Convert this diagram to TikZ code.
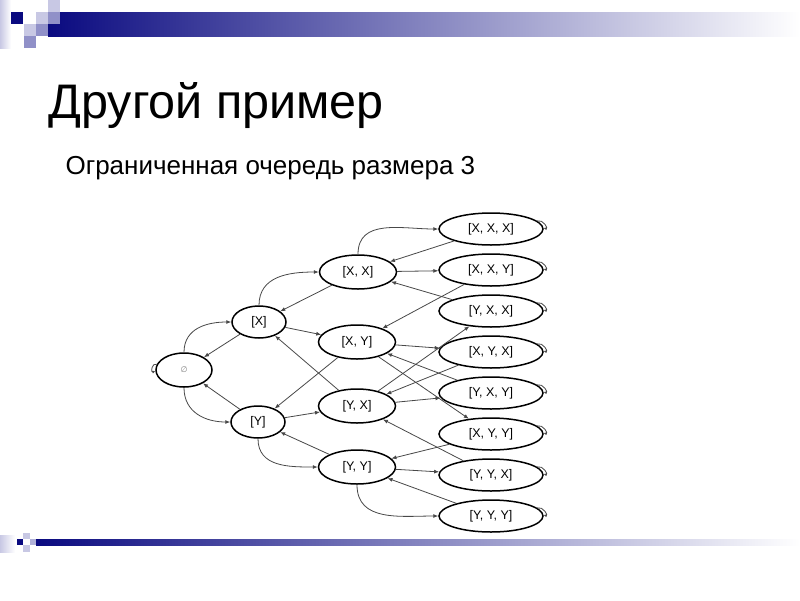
\documentclass[tikz,border=0pt]{standalone}
\usepackage{fontspec}
\setmainfont{Liberation Sans}
\newfontfamily\symfont{DejaVu Sans}
\usetikzlibrary{shapes.geometric, arrows.meta, positioning}
\definecolor{navy}{HTML}{0A0A80}
\definecolor{lav}{HTML}{C8C8E4}
\definecolor{lavmid}{HTML}{9090C8}
\definecolor{edgegray}{HTML}{484848}

\begin{document}
\begin{tikzpicture}[
  x=1pt, y=-1pt,
  every node/.style={font=\fontsize{12.5}{14}\selectfont},
  st/.style={ellipse, draw, line width=1.5pt, inner sep=0pt, minimum height=32pt},
  st1/.style={st, minimum width=54pt},
  st2/.style={st, minimum width=77pt, minimum height=34pt},
  st3/.style={st, minimum width=104pt},
  arr/.style={-{Latex[length=5pt,width=4pt]}, edgegray, line width=0.8pt}
]
\useasboundingbox[fill=white] (0,0) rectangle (800,600);

\shade[left color=lav, right color=white] (0,0) rectangle (11,48);
\shade[left color=navy, right color=white] (48,12) rectangle (800,36);
\fill[navy] (11,12) rectangle (23,24);
\fill[lav] (48,0) rectangle (60,12);
\fill[lav] (36,12) rectangle (48,24);
\fill[lavmid] (48,12) rectangle (60,24);
\fill[lav] (24,24) rectangle (36,36);
\fill[lavmid] (36,24) rectangle (48,36);
\fill[lavmid] (24,36) rectangle (36,48);

\shade[left color=lav, right color=white] (0,535) rectangle (15,552);
\shade[left color=navy, right color=white] (36,539) rectangle (800,545);
\fill[navy] (17,539) rectangle (23,545);
\fill[lav] (23,533) rectangle (30,539);
\fill[lav] (23,545) rectangle (30,552);
\fill[lavmid!70!white] (30,539) rectangle (36,545);

\node[anchor=base west, font=\fontsize{48.5}{56}\selectfont] (title) at (45,118) {Другой пример};
\node[anchor=base west, font=\fontsize{26}{30}\selectfont] (sub) at (62,174) {Ограниченная очередь размера 3};

\node[st1, minimum width=56pt, minimum height=34pt] (e) at (184,370) {\symfont\fontsize{8}{9}\selectfont\color{gray}∅};
\node[st1] (x) at (259,322) {[X]};
\node[st1] (y) at (258,422) {[Y]};
\node[st2] (xx) at (358,272) {[X, X]};
\node[st2] (xy) at (357,342) {[X, Y]};
\node[st2] (yx) at (357,406) {[Y, X]};
\node[st2] (yy) at (357,467) {[Y, Y]};
\node[st3] (xxx) at (491,229) {[X, X, X]};
\node[st3, below=7.5pt of xxx] (xxy) {[X, X, Y]};
\node[st3, below=7.5pt of xxy] (yxx) {[Y, X, X]};
\node[st3, below=7.5pt of yxx] (xyx) {[X, Y, X]};
\node[st3, below=7.5pt of xyx] (yxy) {[Y, X, Y]};
\node[st3, below=7.5pt of yxy] (xyy) {[X, Y, Y]};
\node[st3, below=7.5pt of xyy] (yyx) {[Y, Y, X]};
\node[st3, below=7.5pt of yyx] (yyy) {[Y, Y, Y]};

\draw[arr] (e) to[out=90,in=180,looseness=1.1] (x);
\draw[arr] (e) to[out=-90,in=180,looseness=1.1] (y);
\draw[arr] (x) to[out=90,in=180,looseness=1.1] (xx);
\draw[arr] (y) to[out=-90,in=180,looseness=1.1] (yy);
\draw[arr] (xx) to[out=90,in=180,looseness=1.1] (xxx);
\draw[arr] (yy) to[out=-90,in=180,looseness=1.1] (yyy);

\draw[arr] (x) -- (e);
\draw[arr] (y) -- (e);
\draw[arr] (xx) -- (x);
\draw[arr] (x) -- (xy);
\draw[arr] (xy) -- (y);
\draw[arr] (yx) -- (x);
\draw[arr] (y) -- (yx);
\draw[arr] (yy) -- (y);

\draw[arr] (xxx) -- (xx);
\draw[arr] (xx) -- (xxy);
\draw[arr] (xxy) -- (xy);
\draw[arr] (yxx) -- (xx);
\draw[arr] (yx) -- (yxx);
\draw[arr] (xy) -- (xyx);
\draw[arr] (xyx) -- (yx);
\draw[arr] (xy) -- (xyy);
\draw[arr] (yxy) -- (xy);
\draw[arr] (yx) -- (yxy);
\draw[arr] (xyy) -- (yy);
\draw[arr] (yyx) -- (yx);
\draw[arr] (yy) -- (yyx);
\draw[arr] (yyy) -- (yy);

\draw[arr, -{Latex[length=3pt,width=3pt]}] (e.168) .. controls +(-5,-2) and +(-5,2) .. (e.182);
\foreach \n in {xxx,xxy,yxx,xyx,yxy,xyy,yyx,yyy}
  \draw[arr, -{Latex[length=3pt,width=3pt]}] (\n.10) .. controls +(6,-2) and +(5,1) .. (\n.1);
\end{tikzpicture}
\end{document}
